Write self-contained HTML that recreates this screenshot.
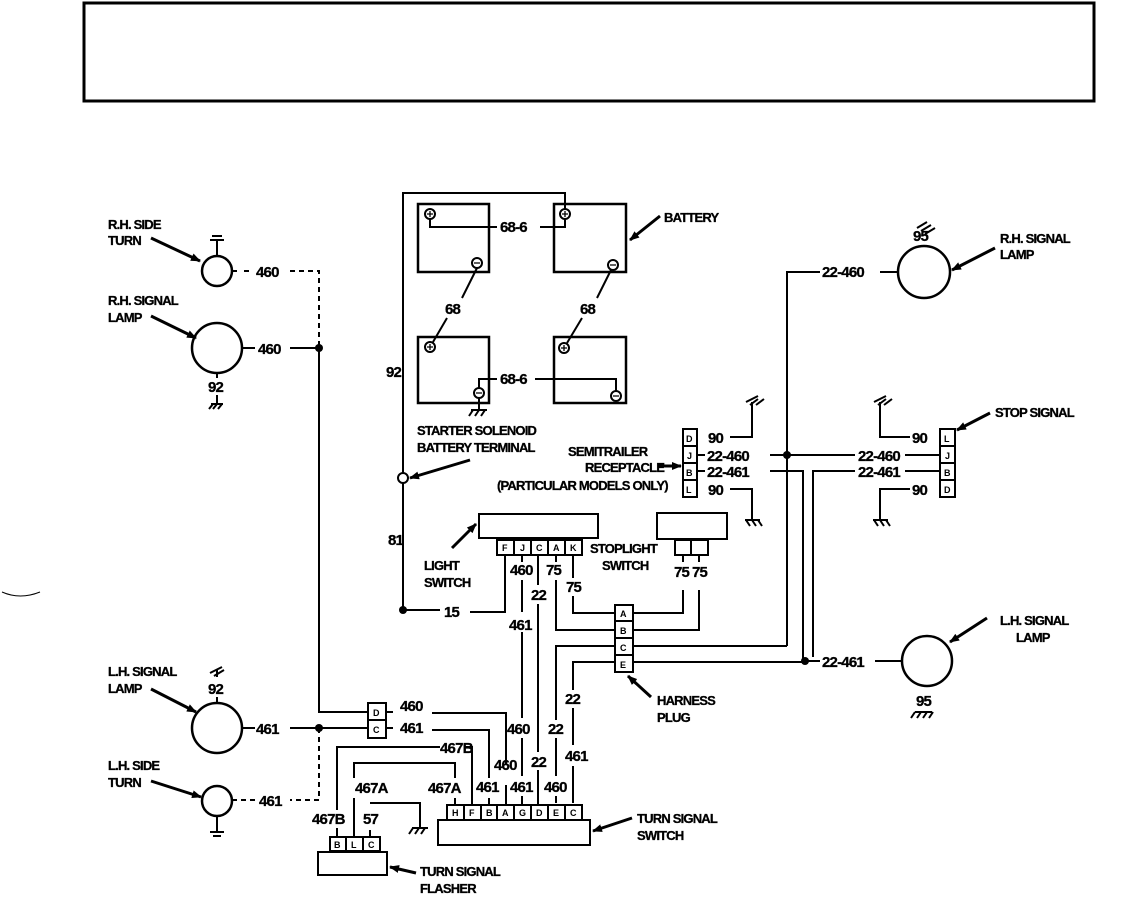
<!DOCTYPE html>
<html><head><meta charset="utf-8"><style>
html,body{margin:0;padding:0;background:#fff;}
svg{display:block;}
text{font-family:"Liberation Sans",sans-serif;font-weight:bold;font-size:15px;fill:#000;stroke:#000;stroke-width:0.3;letter-spacing:-0.8px;}
.s{font-size:13px;}
.c{font-size:9px;letter-spacing:0;stroke-width:0;}
.t{font-size:9px;letter-spacing:0;stroke-width:0;}
</style></head><body>
<svg width="1124" height="907" viewBox="0 0 1124 907" xmlns="http://www.w3.org/2000/svg">
<defs>
<marker id="ah" markerWidth="10" markerHeight="8" refX="9" refY="4" orient="auto" markerUnits="userSpaceOnUse">
<path d="M0,0 L10,4 L0,8 z" fill="#000"/></marker>
</defs>
<rect x="84" y="3" width="1010" height="98" fill="none" stroke="#000" stroke-width="3"/>
<path d="M2,592 Q20,600 40,592" fill="none" stroke="#000" stroke-width="1"/>

<g fill="none" stroke="#000" stroke-width="2">
<rect x="418" y="204" width="71" height="68" stroke-width="2.5"/>
<rect x="554" y="204" width="72" height="68" stroke-width="2.5"/>
<rect x="418" y="337" width="71" height="66" stroke-width="2.5"/>
<rect x="554" y="337" width="72" height="66" stroke-width="2.5"/>
<circle cx="430" cy="214" r="5"/><circle cx="565" cy="214" r="5"/>
<circle cx="477" cy="263" r="5"/><circle cx="613" cy="265" r="5"/>
<circle cx="430" cy="347" r="5"/><circle cx="564" cy="348" r="5"/>
<circle cx="479" cy="393" r="5"/><circle cx="616" cy="396" r="5"/>
<path d="M427,214 H433 M430,211 V217 M562,214 H568 M565,211 V217 M427,347 H433 M430,344 V350 M561,348 H567 M564,345 V351" stroke-width="1.3"/>
<path d="M474,263 H480 M610,265 H616 M476,393 H482 M613,396 H619" stroke-width="1.3"/>
<path d="M565,209 V193 H403 V473"/>
<path d="M403,483 V610 H440 M470,612 H505 V556"/>
<path d="M430,219 V227 H497 M540,227 H565 V219"/>
<path d="M477,268 L462,298 M447,318 L433,342"/>
<path d="M611,270 L597,298 M582,318 L567,343"/>
<path d="M479,388 V379 H497 M535,379 H616 V391"/>
<path d="M479,398 V410 M471,410 H487 M473,410 l-4,6 M479,410 l-4,6 M485,410 l-4,6"/>
<circle cx="403" cy="478" r="5"/>
<rect x="683" y="429" width="14" height="68"/>
<path d="M683,446 H697 M683,463 H697 M683,480 H697"/>
<path d="M730,437 H752 V402 M746,402 l12,-6 M750,405 l8,-6 M756,405 l8,-6"/>
<path d="M697,455 H705 M770,455 H855 M905,455 H940"/>
<path d="M697,471 H705 M770,471 H803 V661"/>
<path d="M730,489 H752 V520 M745,520 H760 M746,520 l4,6 M752,520 l4,6 M758,520 l4,6"/>
<rect x="940" y="429" width="15" height="68"/>
<path d="M940,446 H955 M940,463 H955 M940,480 H955"/>
<path d="M910,437 H880 V402 M874,402 l12,-6 M878,405 l8,-6 M884,405 l8,-6"/>
<path d="M905,471 H940 M855,471 H813 V657"/>
<path d="M910,489 H880 V520 M873,520 H888 M874,520 l4,6 M880,520 l4,6 M886,520 l4,6"/>
<path d="M787,646 V272 H820 M880,272 H898"/>
<circle cx="924" cy="272" r="26" stroke-width="2.5"/>
<path d="M917,228 l10,-6 M921,231 l10,-6 M925,234 l10,-6"/>
<path d="M805,661 H820 M875,661 H901"/>
<circle cx="927" cy="661" r="25" stroke-width="2.5"/>
<path d="M915,712 H932 M915,712 l-4,6 M921,712 l-4,6 M927,712 l-4,6 M933,712 l-4,6"/>
<rect x="479" y="514" width="119" height="24"/>
<rect x="497" y="540" width="85" height="15"/>
<path d="M514,540 V555 M531,540 V555 M548,540 V555 M565,540 V555"/>
<path d="M522,555 V562 M522,580 V612 M522,632 V718 M522,738 V776 M522,796 V805"/>
<path d="M538,555 V585 M538,604 V752 M538,770 V805"/>
<path d="M556,555 V562 M556,580 V630 H615 M633,630 H699 V590"/>
<path d="M573,555 V578 M573,596 V613 H615 M633,613 H683 V590"/>
<path d="M556,803 V796 M556,776 V738 M556,720 V646 H615 M633,646 H787"/>
<path d="M573,803 V766 M573,745 V708 M573,690 V662 H615 M633,662 H805"/>
<rect x="657" y="513" width="70" height="26"/>
<rect x="675" y="540" width="33" height="15"/>
<path d="M691,540 V555 M683,555 V562 M699,555 V562"/>
<rect x="615" y="605" width="18" height="67"/>
<path d="M615,621 H633 M615,638 H633 M615,655 H633"/>
<rect x="438" y="820" width="152" height="25"/>
<rect x="447" y="805" width="135" height="15"/>
<path d="M464,805 V820 M481,805 V820 M497,805 V820 M514,805 V820 M531,805 V820 M548,805 V820 M565,805 V820"/>
<path d="M455,805 V798 M455,778 V763 H354 V778 M354,798 V837"/>
<path d="M472,805 V747 H465 M440,747 H337 V810 M337,828 V837"/>
<path d="M489,805 V798 M489,778 V730 H432"/>
<path d="M506,805 V785 M506,765 V713 H432"/>
<rect x="318" y="852" width="69" height="23"/>
<rect x="330" y="837" width="50" height="14"/>
<path d="M346,837 V851 M363,837 V851"/>
<path d="M370,837 V830 M370,803 H420 V828 M412,828 H428 M413,828 l-4,6 M419,828 l-4,6 M425,828 l-4,6"/>
<rect x="368" y="703" width="18" height="35"/>
<path d="M368,720 H386"/>
<path d="M368,712 H319 V348 H290 M255,348 H242"/>
<path d="M386,712 H393 M386,728 H393 M368,728 H290 M255,728 H242"/>
<path d="M232,271 H238 M244,271 H250 M290,271 H319 V348" stroke-dasharray="5,4"/>
<path d="M319,728 V800 H290 M255,800 H232" stroke-dasharray="5,4"/>
<circle cx="217" cy="271" r="15" stroke-width="2.5"/>
<path d="M217,256 V240 M210,240 H224 M212,236 H222"/>
<circle cx="217" cy="348" r="25" stroke-width="2.5"/>
<path d="M217,373 V378 M217,395 V404 M211,404 H223 M213,404 l-4,5 M217,404 l-4,5 M222,404 l-4,5"/>
<circle cx="217" cy="728" r="25" stroke-width="2.5"/>
<path d="M217,703 V697 M217,677 V670 M210,673 l12,-6 M214,676 l10,-6"/>
<circle cx="217" cy="801" r="15" stroke-width="2.5"/>
<path d="M217,816 V832 M210,832 H224 M213,836 H221"/>
</g>
<g fill="#000">
<circle cx="319" cy="348" r="4"/><circle cx="319" cy="728" r="4"/>
<circle cx="403" cy="610" r="4"/><circle cx="787" cy="455" r="4"/><circle cx="805" cy="661" r="4"/>
</g>
<g stroke="#000" stroke-width="3" fill="none" marker-end="url(#ah)">
<path d="M151,238 L200,261"/><path d="M151,316 L196,338"/>
<path d="M151,689 L196,712"/><path d="M151,781 L201,797"/>
<path d="M660,216 L630,240"/><path d="M995,248 L952,270"/>
<path d="M990,413 L957,430"/><path d="M987,618 L950,642"/>
<path d="M470,460 L410,478"/><path d="M658,466 L681,466"/>
<path d="M452,548 L476,524"/><path d="M651,697 L628,676"/>
<path d="M632,818 L593,831"/><path d="M416,873 L390,867"/>
</g>
<g>
<text x="108" y="229" class="s">R.H. SIDE</text><text x="108" y="245" class="s">TURN</text>
<text x="108" y="305" class="s">R.H. SIGNAL</text><text x="108" y="322" class="s">LAMP</text>
<text x="108" y="676" class="s">L.H. SIGNAL</text><text x="108" y="693" class="s">LAMP</text>
<text x="108" y="770" class="s">L.H. SIDE</text><text x="108" y="787" class="s">TURN</text>
<text x="256" y="277">460</text><text x="258" y="354">460</text>
<text x="208" y="392">92</text><text x="208" y="694">92</text>
<text x="256" y="734">461</text><text x="259" y="806">461</text>
<text x="664" y="222" class="s">BATTERY</text>
<text x="500" y="232">68-6</text><text x="500" y="384">68-6</text>
<text x="445" y="314">68</text><text x="580" y="314">68</text>
<text x="386" y="377">92</text><text x="388" y="545">81</text>
<text x="417" y="435" class="s">STARTER SOLENOID</text><text x="417" y="452" class="s">BATTERY TERMINAL</text>
<text x="568" y="456" class="s">SEMITRAILER</text><text x="585" y="472" class="s">RECEPTACLE</text>
<text x="497" y="490" class="s">(PARTICULAR MODELS ONLY)</text>
<text x="708" y="443">90</text><text x="707" y="461">22-460</text><text x="707" y="477">22-461</text><text x="708" y="495">90</text>
<text x="858" y="461">22-460</text><text x="858" y="477">22-461</text>
<text x="912" y="443">90</text><text x="912" y="495">90</text>
<text x="995" y="417" class="s">STOP SIGNAL</text>
<text x="822" y="277">22-460</text><text x="913" y="241">95</text>
<text x="1000" y="243" class="s">R.H. SIGNAL</text><text x="1000" y="259" class="s">LAMP</text>
<text x="822" y="667">22-461</text><text x="916" y="706">95</text>
<text x="1000" y="625" class="s">L.H. SIGNAL</text><text x="1016" y="642" class="s">LAMP</text>
<text x="590" y="553" class="s">STOPLIGHT</text><text x="602" y="570" class="s">SWITCH</text>
<text x="674" y="577">75</text><text x="692" y="577">75</text>
<text x="424" y="570" class="s">LIGHT</text><text x="424" y="587" class="s">SWITCH</text>
<text x="510" y="575">460</text><text x="546" y="575">75</text><text x="566" y="592">75</text>
<text x="531" y="600">22</text><text x="444" y="617">15</text><text x="509" y="630">461</text>
<text x="400" y="711">460</text><text x="400" y="733">461</text>
<text x="507" y="734">460</text><text x="548" y="734">22</text><text x="565" y="704">22</text>
<text x="494" y="770">460</text><text x="531" y="767">22</text><text x="565" y="761">461</text>
<text x="440" y="753">467B</text>
<text x="355" y="793">467A</text><text x="428" y="793">467A</text>
<text x="476" y="792">461</text><text x="510" y="792">461</text><text x="544" y="792">460</text>
<text x="312" y="824">467B</text><text x="363" y="824">57</text>
<text x="657" y="705" class="s">HARNESS</text><text x="657" y="722" class="s">PLUG</text>
<text x="637" y="823" class="s">TURN SIGNAL</text><text x="637" y="840" class="s">SWITCH</text>
<text x="420" y="876" class="s">TURN SIGNAL</text><text x="420" y="893" class="s">FLASHER</text>
</g>
<g>
<text x="686" y="442" class="c">D</text><text x="687" y="459" class="c">J</text><text x="686" y="476" class="c">B</text><text x="686" y="493" class="c">L</text>
<text x="944" y="442" class="c">L</text><text x="945" y="459" class="c">J</text><text x="944" y="476" class="c">B</text><text x="944" y="493" class="c">D</text>
<text x="502" y="551" class="c">F</text><text x="520" y="551" class="c">J</text><text x="536" y="551" class="c">C</text><text x="553" y="551" class="c">A</text><text x="570" y="551" class="c">K</text>
<text x="620" y="617" class="c">A</text><text x="620" y="634" class="c">B</text><text x="620" y="651" class="c">C</text><text x="620" y="668" class="c">E</text>
<text x="452" y="816" class="c">H</text><text x="469" y="816" class="c">F</text><text x="486" y="816" class="c">B</text><text x="502" y="816" class="c">A</text><text x="519" y="816" class="c">G</text><text x="536" y="816" class="c">D</text><text x="553" y="816" class="c">E</text><text x="570" y="816" class="c">C</text>
<text x="334" y="848" class="c">B</text><text x="351" y="848" class="c">L</text><text x="368" y="848" class="c">C</text>
<text x="373" y="716" class="c">D</text><text x="373" y="733" class="c">C</text>
</g>
</svg>
</body></html>
